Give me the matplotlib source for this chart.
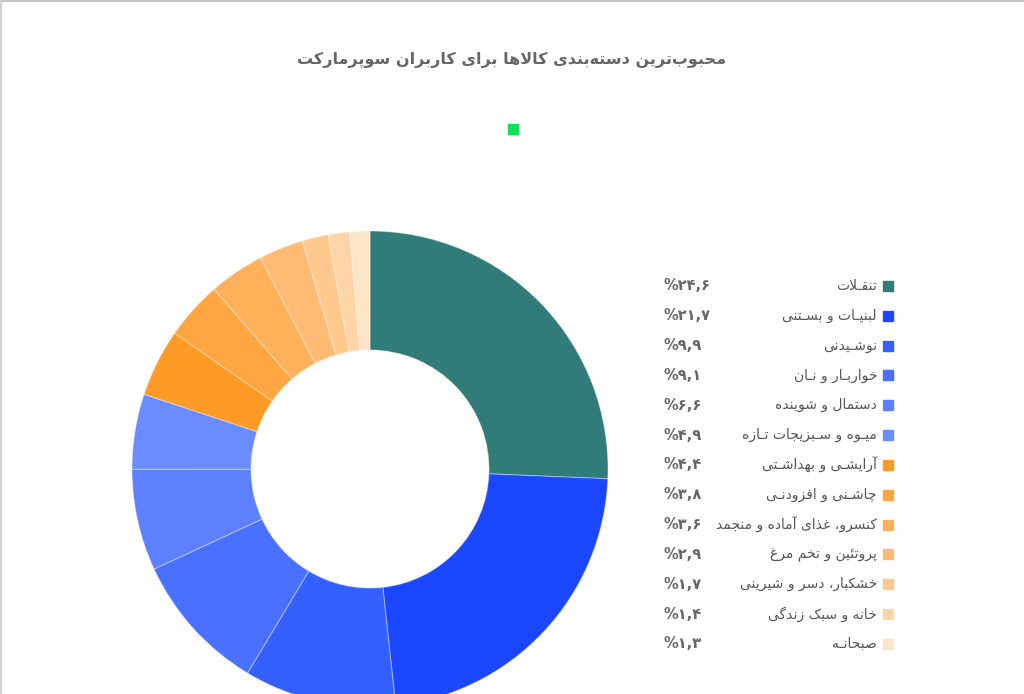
import matplotlib
matplotlib.use('Agg')
import matplotlib.pyplot as plt
from matplotlib.lines import Line2D

# داده‌ها
labels = ['تنقـلات', 'لبنیـات و بسـتنی', 'نوشـیدنی', 'خواربـار و نـان',
          'دستمال و شوینده', 'میـوه و سـبزیجات تـازه', 'آرایشـی و بهداشـتی',
          'چاشـنی و افزودنـی', 'کنسرو، غذای آماده و منجمد', 'پروتئین و تخم مرغ',
          'خشکبار، دسر و شیرینی', 'خانه و سبک زندگی', 'صبحانـه']
values = [24.6, 21.7, 9.9, 9.1, 6.6, 4.9, 4.4, 3.8, 3.6, 2.9, 1.7, 1.4, 1.3]
colors = ['#317b78', '#1a47ff', '#3360ff', '#4a70ff', '#5c80ff', '#6a8cff',
          '#ff9a26', '#ffa643', '#ffb05a', '#ffbb73', '#ffc88c', '#ffd5a8', '#ffe5c8']
title = 'محبوب\u200cترین دسته\u200cبندی کالاها برای کاربران سوپرمارکت'

# جدول شکل حروف: (تنها، پایانی، آغازی، میانی)
FORMS = {
    '\u0627': (0xFE8D, 0xFE8E), '\u0622': (0xFE81, 0xFE82),
    '\u0628': (0xFE8F, 0xFE90, 0xFE91, 0xFE92), '\u062A': (0xFE95, 0xFE96, 0xFE97, 0xFE98),
    '\u062B': (0xFE99, 0xFE9A, 0xFE9B, 0xFE9C), '\u062C': (0xFE9D, 0xFE9E, 0xFE9F, 0xFEA0),
    '\u062D': (0xFEA1, 0xFEA2, 0xFEA3, 0xFEA4), '\u062E': (0xFEA5, 0xFEA6, 0xFEA7, 0xFEA8),
    '\u062F': (0xFEA9, 0xFEAA), '\u0630': (0xFEAB, 0xFEAC),
    '\u0631': (0xFEAD, 0xFEAE), '\u0632': (0xFEAF, 0xFEB0),
    '\u0633': (0xFEB1, 0xFEB2, 0xFEB3, 0xFEB4), '\u0634': (0xFEB5, 0xFEB6, 0xFEB7, 0xFEB8),
    '\u0635': (0xFEB9, 0xFEBA, 0xFEBB, 0xFEBC), '\u0636': (0xFEBD, 0xFEBE, 0xFEBF, 0xFEC0),
    '\u0637': (0xFEC1, 0xFEC2, 0xFEC3, 0xFEC4), '\u0638': (0xFEC5, 0xFEC6, 0xFEC7, 0xFEC8),
    '\u0639': (0xFEC9, 0xFECA, 0xFECB, 0xFECC), '\u063A': (0xFECD, 0xFECE, 0xFECF, 0xFED0),
    '\u0641': (0xFED1, 0xFED2, 0xFED3, 0xFED4), '\u0642': (0xFED5, 0xFED6, 0xFED7, 0xFED8),
    '\u0644': (0xFEDD, 0xFEDE, 0xFEDF, 0xFEE0), '\u0645': (0xFEE1, 0xFEE2, 0xFEE3, 0xFEE4),
    '\u0646': (0xFEE5, 0xFEE6, 0xFEE7, 0xFEE8), '\u0647': (0xFEE9, 0xFEEA, 0xFEEB, 0xFEEC),
    '\u0648': (0xFEED, 0xFEEE), '\u0626': (0xFE89, 0xFE8A, 0xFE8B, 0xFE8C),
    '\u06CC': (0xFBFC, 0xFBFD, 0xFBFE, 0xFBFF), '\u067E': (0xFB56, 0xFB57, 0xFB58, 0xFB59),
    '\u0686': (0xFB7A, 0xFB7B, 0xFB7C, 0xFB7D), '\u0698': (0xFB8A, 0xFB8B),
    '\u06A9': (0xFB8E, 0xFB8F, 0xFB90, 0xFB91), '\u06AF': (0xFB92, 0xFB93, 0xFB94, 0xFB95),
}
TATWEEL = '\u0640'


def joins_next(c):
    return c == TATWEEL or (c in FORMS and len(FORMS[c]) == 4)


def joins_prev(c):
    return c == TATWEEL or c in FORMS


def fa(text):
    """شکل‌دهی ساده حروف فارسی و برگرداندن ترتیب برای نمایش"""
    s = list(text)
    out = []
    i = 0
    n = len(s)
    while i < n:
        c = s[i]
        prev_ok = i > 0 and joins_next(s[i - 1]) and joins_prev(c)
        if c == '\u0644' and i + 1 < n and s[i + 1] in ('\u0627', '\u0622'):
            if s[i + 1] == '\u0627':
                out.append(chr(0xFEFC if prev_ok else 0xFEFB))
            else:
                out.append(chr(0xFEF6 if prev_ok else 0xFEF5))
            i += 2
            continue
        if c in FORMS:
            f = FORMS[c]
            next_ok = i + 1 < n and joins_next(c) and joins_prev(s[i + 1])
            if prev_ok and next_ok:
                out.append(chr(f[3]))
            elif prev_ok:
                out.append(chr(f[1]))
            elif next_ok:
                out.append(chr(f[2]))
            else:
                out.append(chr(f[0]))
        elif c != '\u200c':
            out.append(c)
        i += 1
    return ''.join(reversed(out))


def fa_num(v):
    digits = '۰۱۲۳۴۵۶۷۸۹'
    s = f'{v:.1f}'
    return '%' + ''.join(digits[int(ch)] if ch.isdigit() else ',' for ch in s)


W, H = 1024, 694
fig = plt.figure(figsize=(W / 100, H / 100), dpi=100)
fig.patch.set_facecolor('white')

# دونات
cx, cy, r = 370, 469, 238
ax = fig.add_axes([(cx - r) / W, (H - cy - r) / H, 2 * r / W, 2 * r / H])
ax.pie(values, colors=colors, startangle=90, counterclock=False,
       wedgeprops=dict(width=0.5, edgecolor=(1, 1, 1, 0.35), linewidth=0.8))
ax.set_xlim(-1, 1)
ax.set_ylim(-1, 1)
ax.set_aspect('auto')
ax.axis('off')

# عنوان
fig.text(512 / W, 1 - 60 / H, fa(title), ha='center', va='center',
         fontsize=11.5, fontweight='bold', color='#666666', family='DejaVu Sans')

# مربع سبز
fig.add_artist(Line2D([513 / W], [1 - 129 / H], marker='s', markersize=7.5,
                      color='#0fe05a', linestyle='none'))

# راهنما
y0, dy = 286, 29.83
for k, (lab, v, col) in enumerate(zip(labels, values, colors)):
    y = 1 - (y0 + k * dy) / H
    fig.add_artist(Line2D([888 / W], [y], marker='s', markersize=7.5,
                          color=col, linestyle='none'))
    fig.text(877 / W, y, fa(lab), ha='right', va='center', fontsize=10,
             color='#555555', family='DejaVu Sans')
    fig.text(663 / W, y, fa_num(v), ha='left', va='center', fontsize=10.5,
             fontweight='bold', color='#666666', family='DejaVu Sans')

# حاشیه
fig.add_artist(Line2D([0, 1], [1 - 1 / H, 1 - 1 / H], color='#c4c4c4', lw=1.5))
fig.add_artist(Line2D([1 / W, 1 / W], [0, 1], color='#d0d0d0', lw=1.5))

fig.savefig('out.png', dpi=100, facecolor='white')
